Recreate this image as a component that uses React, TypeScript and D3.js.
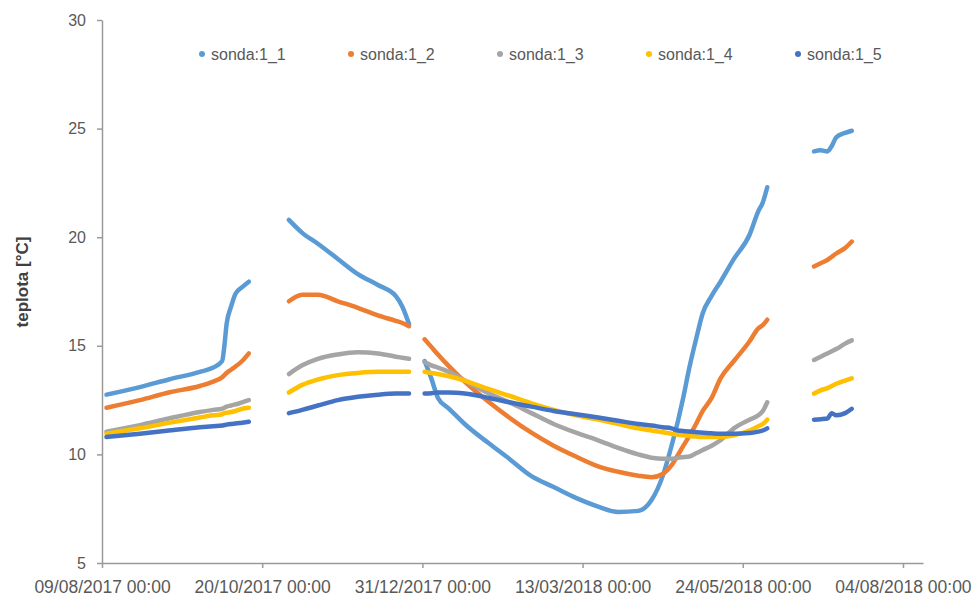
import React, { useEffect, useRef } from 'react';
import * as d3 from 'd3';

// probe names + colours
const seriesNames = ['sonda:1_1', 'sonda:1_2', 'sonda:1_3', 'sonda:1_4', 'sonda:1_5'];
const seriesColors = ['#5B9BD5', '#ED7D31', '#A5A5A5', '#FFC000', '#4472C4'];

// measurement dates, one list per continuous run (gaps between runs)
const segDates = [
  ['2017-08-11', '2017-08-26', '2017-09-08', '2017-09-22', '2017-09-28', '2017-10-02',
    '2017-10-03', '2017-10-04', '2017-10-06', '2017-10-08', '2017-10-11', '2017-10-14'],
  ['2017-11-01', '2017-11-07', '2017-11-14', '2017-11-23', '2017-12-02', '2017-12-11',
    '2017-12-19', '2017-12-22', '2017-12-25'],
  ['2018-01-01', '2018-01-04', '2018-01-07', '2018-01-12', '2018-01-19', '2018-01-30',
    '2018-02-08', '2018-02-18', '2018-02-28', '2018-03-10', '2018-03-20', '2018-03-29',
    '2018-04-07', '2018-04-13', '2018-04-18', '2018-04-22', '2018-04-25', '2018-04-27',
    '2018-04-30', '2018-05-03', '2018-05-06', '2018-05-10', '2018-05-14', '2018-05-20',
    '2018-05-27', '2018-05-31', '2018-06-02', '2018-06-04'],
  ['2018-06-25', '2018-06-28', '2018-07-01', '2018-07-03', '2018-07-05', '2018-07-09', '2018-07-12'],
];

// temperatures [°C] per run
const sonda1_1 = [
  [12.75, 13.1, 13.45, 13.8, 14.0, 14.3, 15.0, 16.0, 16.8, 17.4, 17.7, 17.95],
  [20.8, 20.2, 19.7, 19.0, 18.3, 17.8, 17.3, 16.8, 16.0],
  [14.3, 13.5, 12.6, 12.1, 11.4, 10.5, 9.8, 9.0, 8.5, 8.0, 7.6, 7.35, 7.4, 7.9, 9.0, 10.4,
    11.6, 12.5, 14.0, 15.3, 16.5, 17.3, 17.95, 19.0, 20.1, 21.2, 21.6, 22.3],
  [23.95, 24.0, 23.95, 24.2, 24.6, 24.8, 24.9],
];
const sonda1_2 = [
  [12.15, 12.5, 12.85, 13.15, 13.35, 13.55, 13.65, 13.75, 13.9, 14.05, 14.3, 14.65],
  [17.05, 17.35, 17.35, 17.05, 16.75, 16.4, 16.15, 16.05, 15.9],
  [15.3, 14.95, 14.6, 14.05, 13.35, 12.4, 11.7, 11.0, 10.4, 9.9, 9.45, 9.2, 9.02, 8.95, 9.1, 9.5,
    10.0, 10.35, 10.85, 11.4, 12.0, 12.6, 13.5, 14.3, 15.2, 15.8, 15.95, 16.2],
  [18.65, 18.8, 18.95, 19.1, 19.25, 19.5, 19.8],
];
const sonda1_3 = [
  [11.05, 11.35, 11.65, 11.95, 12.05, 12.1, 12.15, 12.2, 12.25, 12.3, 12.4, 12.5],
  [13.7, 14.1, 14.4, 14.6, 14.7, 14.65, 14.5, 14.45, 14.4],
  [14.25, 14.1, 14.0, 13.8, 13.4, 12.8, 12.4, 11.9, 11.4, 11.0, 10.65, 10.3, 10.0, 9.85, 9.8, 9.8,
    9.85, 9.87, 9.9, 10.05, 10.2, 10.4, 10.65, 11.2, 11.6, 11.8, 12.0, 12.4],
  [14.35, 14.5, 14.65, 14.75, 14.85, 15.1, 15.25],
];
const sonda1_4 = [
  [10.95, 11.2, 11.45, 11.7, 11.8, 11.85, 11.9, 11.92, 11.95, 12.0, 12.1, 12.15],
  [12.85, 13.2, 13.45, 13.65, 13.75, 13.8, 13.8, 13.8, 13.8],
  [13.8, 13.75, 13.7, 13.6, 13.4, 13.0, 12.7, 12.35, 12.05, 11.8, 11.6, 11.4, 11.2, 11.1, 11.02, 10.95,
    10.9, 10.88, 10.85, 10.82, 10.8, 10.8, 10.8, 10.88, 11.1, 11.3, 11.4, 11.6],
  [12.8, 12.95, 13.05, 13.15, 13.25, 13.4, 13.5],
];
const sonda1_5 = [
  [10.8, 10.95, 11.1, 11.25, 11.3, 11.33, 11.35, 11.37, 11.4, 11.42, 11.46, 11.5],
  [11.9, 12.05, 12.25, 12.5, 12.65, 12.75, 12.8, 12.8, 12.8],
  [12.8, 12.82, 12.85, 12.85, 12.8, 12.6, 12.4, 12.2, 12.0, 11.85, 11.7, 11.55, 11.4, 11.33, 11.25, 11.2,
    11.1, 11.08, 11.05, 11.02, 11.0, 10.97, 10.95, 10.95, 10.98, 11.05, 11.1, 11.2],
  [11.6, 11.62, 11.65, 11.9, 11.8, 11.9, 12.1],
];

// axis ticks
const xTickDates = ['2017-08-09', '2017-10-20', '2017-12-31', '2018-03-13', '2018-05-24', '2018-08-04'];
const xDomain = ['2017-08-09', '2018-08-13'];
const yTicks = [5, 10, 15, 20, 25, 30];

const allSeries = [sonda1_1, sonda1_2, sonda1_3, sonda1_4, sonda1_5];

export default function App() {
  const ref = useRef<SVGSVGElement>(null);

  useEffect(() => {
    const width = 972;
    const height = 597;
    const margin = { top: 20, right: 49, bottom: 34, left: 102 };
    const parse = d3.timeParse('%Y-%m-%d');

    const svg = d3.select(ref.current);
    svg.selectAll('*').remove();

    const x = d3.scaleTime()
      .domain(xDomain.map(d => parse(d) as Date))
      .range([margin.left, width - margin.right]);
    const y = d3.scaleLinear()
      .domain([5, 30])
      .range([height - margin.bottom, margin.top]);

    const font = '"Liberation Sans", Arial, sans-serif';
    const axisColor = '#9a9a9a';

    // y axis
    const yAxis = svg.append('g')
      .attr('transform', `translate(${margin.left},0)`)
      .call(d3.axisLeft(y).tickValues(yTicks).tickSize(5).tickSizeOuter(0));
    yAxis.select('.domain').attr('stroke', axisColor).attr('stroke-width', 1.5);
    yAxis.selectAll('.tick line').attr('stroke', axisColor).attr('stroke-width', 1.5);
    yAxis.selectAll('.tick text')
      .attr('fill', '#595959')
      .style('font', `16px ${font}`)
      .attr('x', -16);

    // x axis
    const fmt = d3.timeFormat('%d/%m/%Y %H:%M');
    const xAxis = svg.append('g')
      .attr('transform', `translate(0,${height - margin.bottom})`)
      .call(d3.axisBottom(x)
        .tickValues(xTickDates.map(d => parse(d) as Date))
        .tickFormat(d => fmt(d as Date))
        .tickSize(5)
        .tickSizeOuter(0));
    xAxis.select('.domain').attr('stroke', axisColor).attr('stroke-width', 1.5);
    xAxis.selectAll('.tick line').attr('stroke', axisColor).attr('stroke-width', 1.5);
    xAxis.selectAll('.tick text')
      .attr('fill', '#595959')
      .attr('y', 18)
      .style('font', `17.5px ${font}`);

    // y label
    svg.append('text')
      .attr('transform', `translate(28,282) rotate(-90)`)
      .attr('text-anchor', 'middle')
      .attr('fill', '#404040')
      .style('font', `bold 17px ${font}`)
      .text('teplota [°C]');

    // series
    const line = d3.line<[Date, number]>()
      .x(d => x(d[0]))
      .y(d => y(d[1]))
      .curve(d3.curveMonotoneX);

    allSeries.forEach((runs, si) => {
      runs.forEach((vals, ri) => {
        const pts: [Date, number][] = vals.map((v, i) => [parse(segDates[ri][i]) as Date, v]);
        svg.append('path')
          .datum(pts)
          .attr('fill', 'none')
          .attr('stroke', seriesColors[si])
          .attr('stroke-width', 4.5)
          .attr('stroke-linecap', 'round')
          .attr('stroke-linejoin', 'round')
          .attr('d', line);
      });
    });

    // legend
    const legend = svg.append('g').attr('transform', 'translate(202,54)');
    seriesNames.forEach((name, i) => {
      const g = legend.append('g').attr('transform', `translate(${i * 149},0)`);
      g.append('circle').attr('r', 3).attr('fill', seriesColors[i]);
      g.append('text')
        .attr('x', 9)
        .attr('dy', '0.35em')
        .attr('fill', '#595959')
        .style('font', `16px ${font}`)
        .text(name);
    });
  }, []);

  return (
    <svg
      ref={ref}
      width={972}
      height={597}
      style={{ position: 'absolute', left: 0, top: 0, background: '#fff' }}
    />
  );
}
